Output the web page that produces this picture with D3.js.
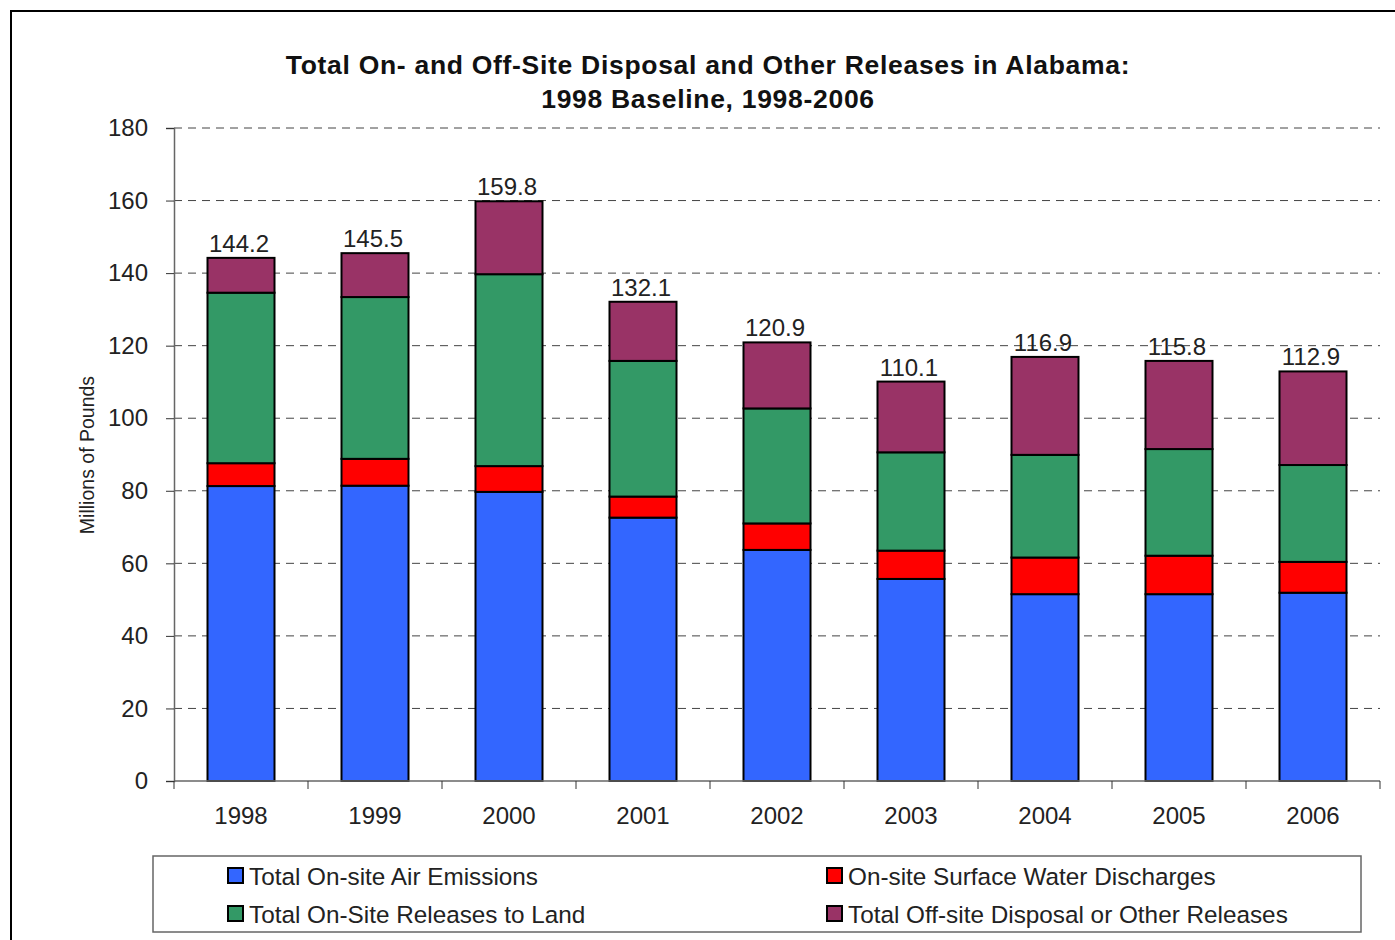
<!DOCTYPE html>
<html><head><meta charset="utf-8">
<script src="https://cdn.jsdelivr.net/npm/d3@7"></script>
<style>body{margin:0;background:#fff;}svg{display:block;font-family:"Liberation Sans",Arial,sans-serif;}</style>
</head><body>
<svg id="c" width="1395" height="940"></svg>
<script>
const years = ["1998","1999","2000","2001","2002","2003","2004","2005","2006"];
const airEmissions   = [81.3, 81.4, 79.7, 72.6, 63.7, 55.7, 51.5, 51.5, 51.9];
const waterDischarges= [6.3, 7.4, 7.1, 5.8, 7.3, 7.8, 10.1, 10.6, 8.5];
const landReleases   = [47.0, 44.6, 52.9, 37.4, 31.7, 27.1, 28.3, 29.4, 26.7];
const offsiteDisposal= [9.6, 12.1, 20.1, 16.3, 18.2, 19.5, 27.0, 24.3, 25.8];
const totals = ["144.2","145.5","159.8","132.1","120.9","110.1","116.9","115.8","112.9"];
const seriesNames = ["Total On-site Air Emissions","On-site Surface Water Discharges","Total On-Site Releases to Land","Total Off-site Disposal or Other Releases"];
const seriesColors = ["#3366FF","#FF0000","#339966","#993366"];
const yTicks = [0,20,40,60,80,100,120,140,160,180];

const svg = d3.select("#c");
// outer frame
svg.append("rect").attr("x",11).attr("y",11).attr("width",1400).attr("height",950)
  .attr("fill","none").attr("stroke","#000").attr("stroke-width",2);

const x0=174, x1=1380, yb=781, yt=128;
const x = d3.scaleBand().domain(years).range([x0,x1]).paddingInner(0.5).paddingOuter(0.25);
const y = d3.scaleLinear().domain([0,180]).range([yb,yt]);

// title
const title = svg.append("text").attr("text-anchor","middle").attr("font-weight","bold")
  .attr("font-size",26.5).attr("letter-spacing",0.7).attr("fill","#111");
title.append("tspan").attr("x",708).attr("y",74).text("Total On- and Off-Site Disposal and Other Releases in Alabama:");
title.append("tspan").attr("x",708).attr("y",108).text("1998 Baseline, 1998-2006");

// gridlines
svg.append("g").selectAll("line").data(yTicks.slice(1)).join("line")
  .attr("x1",x0).attr("x2",x1).attr("y1",d=>y(d)).attr("y2",d=>y(d))
  .attr("stroke","#444").attr("stroke-width",1).attr("stroke-dasharray","8,6");

// stacked bars
const rows = years.map((yr,i)=>({year:yr, s0:airEmissions[i], s1:waterDischarges[i], s2:landReleases[i], s3:offsiteDisposal[i]}));
const stack = d3.stack().keys(["s0","s1","s2","s3"])(rows);
svg.append("g").selectAll("g").data(stack).join("g")
  .attr("fill",(d,i)=>seriesColors[i])
  .selectAll("rect").data(d=>d).join("rect")
  .attr("x",d=>x(d.data.year)).attr("width",x.bandwidth())
  .attr("y",d=>y(d[1])).attr("height",d=>y(d[0])-y(d[1]))
  .attr("stroke","#000").attr("stroke-width",2);

// y axis
const yAxis = d3.axisLeft(y).tickValues(yTicks).tickSize(8).tickPadding(18);
const ga = svg.append("g").attr("transform",`translate(${x0},0)`).call(yAxis);
ga.select(".domain").attr("stroke","#666").attr("stroke-width",1.5);
ga.selectAll(".tick line").attr("stroke","#333");
ga.selectAll(".tick text").attr("font-size",24).attr("fill","#222").attr("font-family","Liberation Sans, Arial, sans-serif");

// x axis
const xb = d3.scalePoint().domain(d3.range(10)).range([x0,x1]);
const gx = svg.append("g").attr("transform",`translate(0,${yb})`);
gx.append("line").attr("x1",x0).attr("x2",x1).attr("y1",0).attr("y2",0).attr("stroke","#666").attr("stroke-width",1.5);
gx.selectAll("line.t").data(d3.range(10)).join("line").attr("class","t")
  .attr("x1",d=>xb(d)).attr("x2",d=>xb(d)).attr("y1",0).attr("y2",8).attr("stroke","#333");
gx.selectAll("text").data(years).join("text")
  .attr("x",d=>x(d)+x.bandwidth()/2).attr("y",43).attr("text-anchor","middle")
  .attr("font-size",24).attr("fill","#222").text(d=>d);

// totals labels
svg.append("g").selectAll("text").data(years).join("text")
  .attr("x",d=>x(d)+x.bandwidth()/2-2)
  .attr("y",(d,i)=>y(airEmissions[i]+waterDischarges[i]+landReleases[i]+offsiteDisposal[i])-6)
  .attr("text-anchor","middle").attr("font-size",24).attr("fill","#222")
  .text((d,i)=>totals[i]);

// y title
svg.append("text").attr("transform","translate(94,455) rotate(-90)")
  .attr("text-anchor","middle").attr("font-size",19.5).attr("fill","#222").text("Millions of Pounds");

// legend
svg.append("rect").attr("x",153).attr("y",856).attr("width",1208).attr("height",76)
  .attr("fill","#fff").attr("stroke","#666").attr("stroke-width",1.5);
const legPos = [[227,876],[826,876],[227,914],[826,914]];
const lg = svg.append("g").selectAll("g").data(seriesNames).join("g")
  .attr("transform",(d,i)=>`translate(${legPos[i][0]},${legPos[i][1]})`);
lg.append("rect").attr("x",1).attr("y",-8).attr("width",15).attr("height",15)
  .attr("fill",(d,i)=>seriesColors[i]).attr("stroke","#000").attr("stroke-width",2);
lg.append("text").attr("x",22).attr("y",9).attr("font-size",24.3).attr("fill","#222").text(d=>d);
</script>
</body></html>
